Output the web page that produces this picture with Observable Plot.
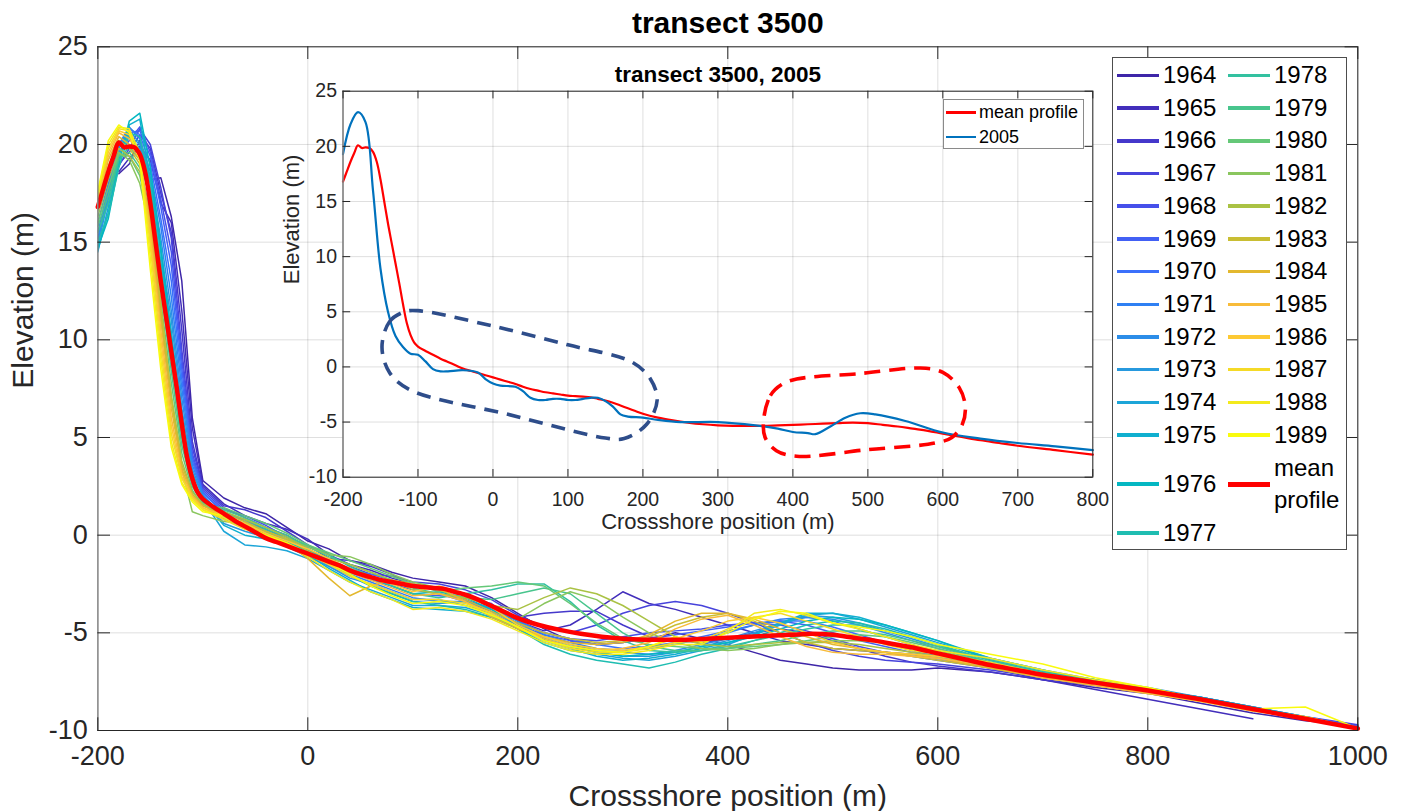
<!DOCTYPE html>
<html>
<head>
<meta charset="utf-8">
<script src="https://cdn.jsdelivr.net/npm/d3@7"></script>
<script src="https://cdn.jsdelivr.net/npm/@observablehq/plot@0.6"></script>
<style>
  body { margin: 0; background: #fff; }
  #wrap { position: relative; width: 1404px; height: 811px; font-family: 'Liberation Sans', Arial, sans-serif; overflow: hidden; }
  #wrap svg { position: absolute; left: 0; top: 0; }
  .legend { position: absolute; background: #fff; box-sizing: border-box; color: #000; }
  #mainLegend { left: 1112px; top: 57px; width: 235px; height: 493px; border: 1px solid #4d4d4d;
    display: grid; grid-template-rows: repeat(14, auto); grid-auto-flow: column; grid-template-columns: 111px auto;
    padding: 1px 0 0 4px; font-size: 24px; }
  #mainLegend .item { display: flex; align-items: center; line-height: 32.7px; white-space: nowrap; }
  #mainLegend .sw { width: 42px; height: 3.5px; margin-right: 4px; flex: none; }
  #mainLegend .two { line-height: 31.7px; padding: 1px 0; }
  #insetLegend { left: 943px; top: 99px; width: 141px; height: 50px; border: 1.5px solid #8a8a8a; padding: 0 0 0 2px; font-size: 18px; }
  #insetLegend .item { display: flex; align-items: center; line-height: 24.5px; white-space: nowrap; }
  #insetLegend .sw { width: 30px; height: 2.5px; margin-right: 3px; flex: none; }
</style>
</head>
<body>
<div id="wrap"></div>
<script>
// ---------------- data ----------------
const mainTitle = "transect 3500";
const insetTitle = "transect 3500, 2005";
const xLabel = "Crossshore position (m)";
const yLabel = "Elevation (m)";

const mainXTicks = [-200, 0, 200, 400, 600, 800, 1000];
const mainYTicks = [-10, -5, 0, 5, 10, 15, 20, 25];
const insetXTicks = [-200, -100, 0, 100, 200, 300, 400, 500, 600, 700, 800];
const insetYTicks = [-10, -5, 0, 5, 10, 15, 20, 25];

const years = [1964,1965,1966,1967,1968,1969,1970,1971,1972,1973,1974,1975,1976,1977,
               1978,1979,1980,1981,1982,1983,1984,1985,1986,1987,1988,1989];
const yearColors = ["#3E26A8","#422EBB","#4538CB","#4743DB","#4650EA","#4260F4","#3B70FB","#2F80F3",
                    "#2C8DE8","#2799DE","#1CA5D8","#10AFCF","#04B7C2","#1FBDB1","#33C1A0","#48C58D",
                    "#65C878","#8AC65E","#AAC244","#C9BE33","#E3B82E","#F8BB39","#FDC933","#F5DA27",
                    "#F3EA1C","#F9FB0E"];

// shared crossshore positions of the yearly surveys
const surveyX = [-200,-190,-180,-170,-160,-150,-140,-130,-120,-110,-100,
                 -80,-60,-40,-20,0,20,40,60,80,100,
                 125,150,175,200,225,250,275,300,325,350,
                 375,400,425,450,475,500,525,550,575,600,
                 650,700,750,800,850,900,950,1000];

const y1964 = [null,null,18.5,19.0,20.2,18.2,18.3,16.3,13.0,6.0,2.8, 1.9,1.4,1.1,0.4,-0.3,-0.7,-1.3,-1.5,-1.9,-2.2, -2.4,-2.6,-3.2,-4.0,-4.8,-5.4,-5.6,-5.5,-5.3,-5.0, -5.3,-5.6,-6.0,-6.4,-6.6,-6.8,-6.9,-6.9,-6.9,-6.8, -7.0,-7.4,-7.8,-8.1,-8.6,-9.1,-9.5,-9.75];
const y1965 = [null,null,18.6,19.3,19.9,19.2,17.0,16.0,11.5,5.5,2.6, 1.6,1.0,0.6,0.3,-0.2,-1.0,-1.5,-1.8,-2.2,-2.5, -2.7,-3.0,-3.6,-4.4,-4.9,-4.6,-3.8,-2.9,-3.5,-3.8, -4.2,-4.6,-5.0,-5.4,-5.6,-5.8,-5.9,-6.0,-6.1,-6.3, -6.8,-7.4,-7.9,-8.4,-8.9,-9.4,null,null];
const y1966 = [null,18.4,19.0,19.6,20.5,19.8,17.5,15.5,10.5,4.8,2.5, 1.5,1.3,0.9,0.2,-0.5,-1.2,-1.3,-1.6,-2.0,-2.6, -2.8,-3.3,-3.8,-4.2,-4.0,-3.9,-3.9,-4.6,-5.2,-5.4, -5.5,-5.3,-5.0,-4.8,-5.0,-5.4,-5.8,-6.2,-6.5,-6.7, -7.0,-7.4,-7.7,-8.0,-8.4,-8.9,-9.4,-9.8];
const y1967 = [null,null,18.9,19.8,20.8,20.0,17.8,15.2,9.5,4.5,2.4, 1.4,0.9,0.4,0.0,-0.6,-1.0,-1.6,-2.0,-2.1,-2.4, -2.5,-2.8,-3.3,-4.1,-4.7,-5.0,-4.6,-4.0,-3.6,-3.4, -3.6,-4.0,-4.5,-5.0,-5.5,-5.9,-6.2,-6.4,-6.5,-6.6, -6.9,-7.3,-7.6,-7.9,-8.3,-8.8,-9.3,-9.7];
const y1968 = [null,18.6,19.5,20.2,20.9,19.6,17.2,14.5,9.0,4.2,2.3, 1.3,1.0,0.5,-0.1,-0.7,-1.3,-1.7,-2.1,-2.5,-2.8, -3.0,-3.4,-3.9,-4.5,-5.0,-5.3,-5.4,-5.2,-5.0,-4.9, -4.8,-4.6,-4.5,-4.6,-4.9,-5.3,-5.7,-6.0,-6.2,-6.4, -6.8,-7.2,-7.6,-8.0,-8.4,-8.9,-9.4,-9.8];
const y1969 = [16.0,18.0,19.8,20.6,20.7,19.4,16.8,13.8,8.5,4.0,2.2, 1.2,0.7,0.3,-0.2,-0.8,-1.4,-1.9,-2.3,-2.6,-3.0, -3.1,-3.2,-3.5,-4.6,-5.1,-5.4,-5.6,-5.5,-5.3,-5.1, -4.9,-4.7,-4.5,-4.4,-4.6,-5.0,-5.4,-5.7,-6.0,-6.2, -6.7,-7.2,-7.5,-7.9,-8.4,-8.9,-9.4,-9.9];
const y1970 = [15.5,17.8,19.9,20.8,20.5,19.0,16.2,13.0,8.0,3.8,2.2, 1.1,0.8,0.2,-0.3,-0.9,-1.2,-1.8,-2.0,-2.3,-2.6, -2.8,-3.0,-3.6,-4.4,-5.0,-5.3,-5.6,-5.8,-5.7,-5.5, -5.2,-4.9,-4.6,-4.4,-4.4,-4.7,-5.1,-5.5,-5.9,-6.2, -6.7,-7.1,-7.5,-7.9,-8.3,-8.8,-9.3,-9.8];
const y1971 = [15.2,17.6,20.0,20.9,20.3,18.6,15.8,12.2,7.5,3.6,2.1, 0.9,0.5,0.0,-0.5,-1.0,-1.5,-2.0,-2.4,-2.8,-3.2, -3.4,-3.4,-3.7,-4.3,-5.1,-5.5,-5.8,-5.9,-5.8,-5.6, -5.3,-5.0,-4.6,-4.3,-4.2,-4.4,-4.8,-5.2,-5.6,-6.0, -6.6,-7.1,-7.5,-7.9,-8.4,-8.9,-9.4,-9.9];
const y1972 = [15.0,17.4,19.8,20.7,20.1,18.3,15.2,11.5,7.0,3.4,2.0, 0.8,0.4,0.1,-0.4,-0.9,-1.6,-2.2,-2.5,-2.9,-3.3, -3.3,-3.6,-4.0,-4.6,-5.2,-5.6,-5.9,-6.0,-6.1,-5.9, -5.6,-5.3,-4.9,-4.5,-4.2,-4.3,-4.6,-5.0,-5.4,-5.8, -6.5,-7.0,-7.4,-7.9,-8.3,-8.8,-9.4,-9.9];
const y1973 = [14.8,17.2,19.6,20.5,20.0,18.0,14.6,11.0,6.5,3.2,2.0, 0.6,0.2,-0.1,-0.6,-1.1,-1.6,-2.1,-2.6,-3.0,-3.4, -3.5,-3.4,-3.8,-4.4,-5.3,-5.7,-6.0,-6.2,-6.2,-6.0, -5.7,-5.4,-5.0,-4.5,-4.1,-4.2,-4.5,-4.9,-5.3,-5.7, -6.4,-7.0,-7.4,-7.8,-8.3,-8.9,-9.4,-9.9];
const y1974 = [14.5,16.8,19.4,20.4,19.8,17.6,14.0,10.4,6.0,3.0,1.8, 0.2,-0.5,-0.6,-0.8,-1.2,-1.8,-2.4,-2.8,-3.2,-3.6, -3.6,-3.7,-4.1,-4.8,-5.5,-5.9,-6.1,-6.3,-6.4,-6.2, -5.9,-5.6,-5.1,-4.6,-4.1,-4.0,-4.3,-4.7,-5.1,-5.5, -6.3,-6.9,-7.4,-7.9,-8.4,-8.9,-9.4,-9.9];
const y1975 = [14.6,16.5,19.2,21.0,21.3,18.2,14.5,10.0,5.8,2.9,1.8, 0.5,0.0,-0.2,-0.5,-1.0,-1.7,-2.3,-2.9,-3.3,-3.7, -3.8,-3.9,-4.2,-4.7,-5.4,-5.8,-6.2,-6.4,-6.3,-6.1, -5.8,-5.5,-5.1,-4.5,-4.0,-4.0,-4.2,-4.6,-5.0,-5.4, -6.3,-6.9,-7.5,-8.0,-8.4,-8.9,-9.4,-9.9];
const y1976 = [14.7,16.2,19.0,21.2,21.6,18.8,14.8,10.2,5.6,2.9,1.7, 0.9,0.6,0.2,-0.4,-0.8,-1.3,-1.7,-2.2,-2.6,-3.0, -2.9,-3.2,-3.8,-4.6,-5.3,-5.7,-6.0,-6.2,-6.1,-6.0, -5.7,-5.5,-5.2,-4.8,-4.4,-4.2,-4.3,-4.6,-5.0,-5.4, -6.4,-7.0,-7.4,-7.9,-8.3,-8.8,-9.3,-9.9];
const y1977 = [15.0,16.4,18.8,20.6,20.4,18.0,13.8,9.6,5.4,2.8,1.7, 1.0,0.5,0.1,-0.3,-0.8,-1.4,-2.0,-2.6,-3.0,-3.4, -3.6,-3.8,-4.2,-4.8,-5.6,-6.1,-6.4,-6.6,-6.8,-6.5, -6.1,-5.8,-5.4,-5.0,-4.6,-4.4,-4.5,-4.8,-5.2,-5.6, -6.6,-7.2,null,null,null,null,null,null];
const y1978 = [15.5,17.0,19.2,19.9,19.2,17.2,13.2,9.0,5.0,2.7,1.6, 1.2,0.8,0.3,-0.1,-0.5,-1.0,-1.6,-2.1,-2.6,-3.0, -3.2,-3.0,-2.8,-2.5,-2.5,-3.4,-4.6,-5.4,-5.9,-6.0, -5.9,-5.7,-5.4,-5.1,-4.8,-4.6,-4.6,-4.9,-5.2,-5.6, -6.4,-7.0,-7.5,-7.9,-8.4,-8.9,-9.4,-9.9];
const y1979 = [15.8,17.4,19.4,19.6,18.8,16.6,12.6,8.4,4.6,2.5,1.6, 1.3,0.9,0.4,0.0,-0.6,-1.1,-1.5,-1.9,-2.3,-2.7, -3.0,-3.2,-3.3,-3.0,-2.7,-3.0,-4.0,-5.0,-5.7,-5.9, -5.9,-5.8,-5.6,-5.4,-5.1,-4.9,-4.9,-5.1,-5.4,-5.7, -6.5,-7.1,-7.5,-8.0,-8.4,-8.9,-9.4,-9.9];
const y1980 = [16.0,17.8,19.5,19.4,18.4,16.0,12.0,7.8,4.2,2.3,1.5, 1.4,1.0,0.6,0.1,-0.5,-0.9,-1.3,-1.7,-2.1,-2.5, -2.9,-2.7,-2.6,-2.4,-2.6,-3.5,-4.5,-5.3,-5.6,-5.7, -5.8,-5.8,-5.7,-5.6,-5.4,-5.2,-5.1,-5.2,-5.5,-5.8, -6.6,-7.1,null,null,null,null,null,null];
const y1981 = [16.3,18.2,19.6,19.2,18.0,15.6,11.2,7.0,3.4,1.2,1.0, 0.7,0.6,0.2,-0.2,-0.6,-1.0,-1.1,-1.5,-2.0,-2.4, -2.7,-3.1,-3.7,-4.3,-3.5,-2.9,-3.3,-4.2,-5.0,-5.5, -5.8,-5.9,-5.8,-5.6,-5.5,-5.4,-5.4,-5.5,-5.7,-5.9, -6.6,-7.2,-7.6,-8.0,-8.4,-8.9,-9.4,-9.9];
const y1982 = [16.6,18.6,19.8,19.4,18.6,16.0,11.5,7.2,3.8,2.2,1.6, 1.2,0.8,0.4,-0.1,-0.7,-1.2,-1.5,-1.9,-2.3,-2.8, -3.0,-3.2,-3.6,-3.8,-3.2,-2.7,-3.0,-3.6,-4.4,-5.2, -5.6,-5.7,-5.6,-5.5,-5.5,-5.5,-5.6,-5.8,-6.0,-6.2, -6.7,-7.2,null,null,null,null,null,null];
const y1983 = [16.8,18.9,20.2,19.8,19.0,16.2,11.8,7.0,3.6,2.1,1.5, 1.1,0.7,0.2,-0.2,-0.8,-1.4,-1.9,-2.2,-2.4,-2.6, -2.8,-3.3,-3.9,-4.5,-5.0,-5.3,-5.5,-5.4,-5.2,-4.6, -4.2,-4.0,-4.4,-5.0,-5.5,-5.8,-5.9,-6.0,-6.2,-6.4, -6.8,-7.3,-7.6,-8.0,-8.4,-8.9,-9.4,-9.9];
const y1984 = [17.0,19.2,20.4,20.0,19.2,16.0,11.0,6.5,3.4,2.0,1.5, 1.0,0.6,0.1,-0.4,-1.2,-2.2,-3.1,-2.6,-2.3,-2.5, -2.7,-3.4,-4.2,-4.8,-5.2,-5.5,-5.6,-5.5,-5.1,-4.4, -4.0,-4.0,-4.3,-4.8,-5.2,-5.6,-5.8,-6.0,-6.1,-6.3, -6.8,-7.3,-7.7,-8.1,-8.5,-8.9,-9.4,-9.9];
const y1985 = [17.1,19.4,20.6,20.3,19.4,15.6,10.5,6.0,3.2,2.0,1.4, 0.9,0.5,0.0,-0.5,-1.0,-1.5,-1.9,-2.3,-2.7,-3.1, -3.0,-3.4,-4.0,-4.7,-5.3,-5.7,-5.9,-5.8,-5.5,-4.8, -4.3,-4.1,-4.6,-5.2,-5.7,-6.0,-6.1,-6.1,-6.2,-6.3, -6.7,-7.3,-7.7,-8.1,-8.5,-9.0,-9.3,-9.9];
const y1986 = [17.2,19.6,20.7,20.5,19.3,15.2,10.0,5.6,3.0,1.9,1.4, 1.0,0.6,0.1,-0.3,-0.7,-1.2,-1.7,-2.2,-2.5,-2.9, -2.6,-3.0,-3.7,-4.6,-5.2,-5.6,-5.8,-5.9,-5.7,-5.3, -4.9,-4.4,-4.2,-4.5,-5.0,-5.5,-5.8,-6.0,-6.1,-6.2, -6.6,-7.2,-7.6,-8.0,-8.5,-9.0,-9.4,-9.9];
const y1987 = [17.3,19.8,20.8,20.7,19.6,14.8,9.5,5.2,2.9,1.9,1.3, 0.8,0.3,0.0,-0.4,-0.9,-1.5,-2.1,-2.5,-2.9,-3.3, -3.3,-3.5,-4.0,-4.7,-5.4,-5.8,-6.0,-6.0,-5.8,-5.5, -5.4,-4.8,-4.2,-4.0,-4.4,-4.8,-5.2,-5.6,-5.9,-6.1, -6.5,-7.1,-7.5,-7.9,-8.4,-8.9,-9.4,-9.9];
const y1988 = [17.5,20.0,20.9,20.8,19.5,14.2,9.0,4.8,2.7,1.8,1.3, 0.9,0.4,-0.1,-0.5,-1.1,-1.8,-2.4,-2.9,-3.3,-3.8, -3.7,-3.9,-4.3,-4.9,-5.5,-5.9,-6.1,-6.1,-5.9,-5.6, -5.6,-4.9,-4.0,-3.8,-4.1,-4.5,-4.8,-5.2,-5.6,-5.9, -6.3,-6.9,-7.4,-7.8,-8.4,-8.9,-9.3,-9.9];
const y1989 = [17.6,20.2,21.0,20.6,19.2,13.6,8.5,4.5,2.6,1.7,1.2, 1.0,0.5,0.0,-0.4,-1.0,-1.4,-2.0,-2.6,-3.1,-3.5, -3.4,-3.6,-4.1,-4.7,-5.4,-5.7,-5.9,-6.0,-5.7,-5.2, -5.5,-5.0,-4.3,-3.9,-4.0,-4.5,-4.7,-4.9,-5.2,-5.6, -6.1,-6.6,-7.3,-7.8,-8.4,-8.9,-8.8,-9.9];

const yearProfiles = [y1964,y1965,y1966,y1967,y1968,y1969,y1970,y1971,y1972,y1973,y1974,y1975,y1976,
                      y1977,y1978,y1979,y1980,y1981,y1982,y1983,y1984,y1985,y1986,y1987,y1988,y1989];

// mean profile
const meanX = [-200,-195,-190,-185,-180,-175,-170,-165,-160,-155,-150,-145,-140,-135,-130,-125,-120,-115,-110,-105,-100,
               -90,-80,-70,-60,-50,-40,-30,-20,-10,0,10,20,30,40,50,60,70,80,90,100,110,120,130,140,150,160,170,180,190,200,
               220,240,260,280,300,320,340,360,380,400,420,440,460,480,500,520,540,560,580,600,
               625,650,675,700,750,800,850,900,950,1000];
const meanY = [16.8,17.7,18.6,19.4,20.1,19.85,19.9,19.85,19.5,18.6,17.0,15.0,13.0,11.2,9.4,7.6,5.7,4.0,2.9,2.2,1.85,
               1.45,1.1,0.75,0.45,0.15,-0.15,-0.35,-0.55,-0.75,-0.95,-1.15,-1.35,-1.55,-1.8,-2.0,-2.15,-2.3,-2.4,-2.5,-2.6,
               -2.65,-2.7,-2.75,-2.9,-3.05,-3.25,-3.5,-3.75,-4.0,-4.25,
               -4.6,-4.85,-5.05,-5.2,-5.3,-5.35,-5.35,-5.35,-5.3,-5.25,-5.2,-5.15,-5.1,-5.05,-5.1,-5.25,-5.4,-5.6,-5.8,-6.05,
               -6.35,-6.65,-6.9,-7.15,-7.55,-7.95,-8.4,-8.9,-9.4,-9.9];

// 2005 profile (inset)
const p2005X = [-200,-190,-180,-170,-160,-150,-140,-130,-120,-110,-100,-90,-80,-70,-60,-40,-20,-10,0,10,30,
                40,50,60,70,80,90,100,110,120,130,140,150,160,170,180,200,220,250,300,350,
                380,400,420,430,450,470,490,510,550,600,650,700,750,800];
const p2005Y = [19.3,22.0,23.1,22.2,16.0,8.9,5.0,2.8,1.8,1.2,1.1,0.5,-0.2,-0.4,-0.4,-0.3,-0.5,-1.1,-1.5,-1.7,-1.8,
                -2.2,-2.8,-3.0,-3.0,-2.9,-2.9,-3.0,-3.0,-2.9,-2.8,-2.8,-3.1,-3.6,-4.3,-4.5,-4.6,-4.8,-5.0,-5.0,-5.3,
                -5.6,-5.9,-6.0,-6.1,-5.4,-4.6,-4.2,-4.3,-4.9,-5.95,-6.5,-6.9,-7.2,-7.55];

// annotation outlines (data coordinates of the inset)
const nearshoreLoopX = [-148,-138,-118,-100,0,100,185,210,219,205,175,150,20,-110,-138];
const nearshoreLoopY = [1.8,4.1,5.0,5.1,3.7,2.0,0.45,-1.1,-3.0,-5.2,-6.5,-6.45,-4.3,-2.1,-0.5];
const barLoopX = [361,370,385,405,490,570,600,622,630,626,612,590,500,405,378,363];
const barLoopY = [-4.8,-2.6,-1.6,-1.1,-0.6,-0.1,-0.5,-1.9,-3.6,-5.2,-6.4,-6.9,-7.5,-8.1,-7.6,-6.4];

const meanLabel = "mean profile";
const insetSeriesLabel = "2005";

// ---------------- build ----------------
const font = "'Liberation Sans', Arial, sans-serif";
const axisInk = "#262626";
const gridOpacity = 0.15;
const W = 1404, H = 811;

const mainXDomain = [-200, 1000];
const insetXDomain = [-200, 800];
const yDomain = [-10, 25];

const meanData = meanX.map((x, i) => ({x, y: meanY[i]}));
const meanInset = meanData.filter(d => d.x >= insetXDomain[0] && d.x <= insetXDomain[1]);
const data2005 = p2005X.map((x, i) => ({x, y: p2005Y[i]}));
const loopA = nearshoreLoopX.map((x, i) => ({x, y: nearshoreLoopY[i]}));
const loopB = barLoopX.map((x, i) => ({x, y: barLoopY[i]}));

// main chart frame
const mL = 97.3, mR = W - 1357.3, mT = 46.3, mB = H - 730;
const mPW = W - mL - mR, mPH = H - mT - mB;
const mTick = 12.7;

const yearMarks = years.map((yr, k) =>
  Plot.line(surveyX.map((x, j) => ({x, y: yearProfiles[k][j]})).filter(d => d.y != null),
    {x: "x", y: "y", stroke: yearColors[k], strokeWidth: 1.5})
);

const main = Plot.plot({
  width: W, height: H,
  marginLeft: mL, marginRight: mR, marginTop: mT, marginBottom: mB,
  style: {fontFamily: font, fontSize: "27px", color: axisInk, background: "white", overflow: "visible"},
  x: {domain: mainXDomain, ticks: mainXTicks, tickSize: 0, tickPadding: 15, tickFormat: d => String(d), label: null},
  y: {domain: yDomain, ticks: mainYTicks, tickSize: 0, tickPadding: 10, tickFormat: d => String(d), label: null},
  marks: [
    Plot.ruleX(mainXTicks, {x: d => d, stroke: axisInk, strokeOpacity: gridOpacity}),
    Plot.ruleY(mainYTicks, {y: d => d, stroke: axisInk, strokeOpacity: gridOpacity}),
    ...yearMarks,
    Plot.line(meanData, {x: "x", y: "y", stroke: "#FF0000", strokeWidth: 4.5, curve: "catmull-rom"}),
    Plot.frame({stroke: axisInk, strokeWidth: 1}),
    Plot.ruleX([mainXDomain[0]], {x: d => d, stroke: "#a0a0a0", strokeWidth: 1.2}),
    Plot.tickY(mainYTicks, {y: d => d, stroke: axisInk, insetRight: mPW - mTick}),
    Plot.tickY(mainYTicks, {y: d => d, stroke: axisInk, insetLeft: mPW - mTick}),
    Plot.tickX(mainXTicks, {x: d => d, stroke: axisInk, insetTop: mPH - mTick}),
    Plot.tickX(mainXTicks, {x: d => d, stroke: axisInk, insetBottom: mPH - mTick}),
    Plot.text([mainTitle], {text: d => d, frameAnchor: "top", dy: -23, fontSize: 30, fontWeight: "bold", fill: "#000", lineAnchor: "middle"}),
    Plot.text([xLabel], {text: d => d, frameAnchor: "bottom", dy: 66, fontSize: 30, fill: axisInk, lineAnchor: "middle"}),
    Plot.text([yLabel], {text: d => d, frameAnchor: "left", dx: -74, rotate: -90, fontSize: 30, fill: axisInk, lineAnchor: "middle"})
  ]
});

// inset chart frame
const iL = 342.5, iR = W - 1092.3, iT = 90.7, iB = H - 476.7;
const iPW = W - iL - iR, iPH = H - iT - iB;
const iTick = 7.7;

const inset = Plot.plot({
  width: W, height: H,
  marginLeft: iL, marginRight: iR, marginTop: iT, marginBottom: iB,
  style: {fontFamily: font, fontSize: "19.5px", color: axisInk, background: "transparent", overflow: "visible"},
  x: {domain: insetXDomain, ticks: insetXTicks, tickSize: 0, tickPadding: 15, tickFormat: d => String(d), label: null},
  y: {domain: yDomain, ticks: insetYTicks, tickSize: 0, tickPadding: 6, tickFormat: d => String(d), label: null},
  marks: [
    Plot.frame({fill: "white"}),
    Plot.ruleX(insetXTicks, {x: d => d, stroke: axisInk, strokeOpacity: gridOpacity}),
    Plot.ruleY(insetYTicks, {y: d => d, stroke: axisInk, strokeOpacity: gridOpacity}),
    Plot.line(meanInset, {x: "x", y: "y", stroke: "#FF0000", strokeWidth: 2.2, curve: "catmull-rom"}),
    Plot.line(data2005, {x: "x", y: "y", stroke: "#0072BD", strokeWidth: 2.2, curve: "catmull-rom"}),
    Plot.line(loopA, {x: "x", y: "y", curve: "catmull-rom-closed", stroke: "#2E4D8A", strokeWidth: 3.6, strokeDasharray: "14 9", strokeLinecap: "butt"}),
    Plot.line(loopB, {x: "x", y: "y", curve: "catmull-rom-closed", stroke: "#FF0000", strokeWidth: 3.6, strokeDasharray: "16 9", strokeLinecap: "butt"}),
    Plot.frame({stroke: axisInk, strokeWidth: 1}),
    Plot.ruleX([insetXDomain[0]], {x: d => d, stroke: "#a0a0a0", strokeWidth: 1.2}),
    Plot.tickY(insetYTicks, {y: d => d, stroke: axisInk, insetRight: iPW - iTick}),
    Plot.tickY(insetYTicks, {y: d => d, stroke: axisInk, insetLeft: iPW - iTick}),
    Plot.tickX(insetXTicks, {x: d => d, stroke: axisInk, insetTop: iPH - iTick}),
    Plot.tickX(insetXTicks, {x: d => d, stroke: axisInk, insetBottom: iPH - iTick}),
    Plot.text([insetTitle], {text: d => d, frameAnchor: "top", dy: -16.5, fontSize: 22.5, fontWeight: "bold", fill: "#000", lineAnchor: "middle"}),
    Plot.text([xLabel], {text: d => d, frameAnchor: "bottom", dy: 44.5, fontSize: 22, fill: axisInk, lineAnchor: "middle"}),
    Plot.text([yLabel], {text: d => d, frameAnchor: "left", dx: -51, rotate: -90, fontSize: 22, fill: axisInk, lineAnchor: "middle"})
  ]
});

const wrap = document.getElementById("wrap");
wrap.appendChild(main);
wrap.appendChild(inset);

// main legend
const leg = document.createElement("div");
leg.id = "mainLegend";
leg.className = "legend";
function addItem(container, color, labelHtml, cls, thick) {
  const it = document.createElement("div");
  it.className = "item";
  const sw = document.createElement("span");
  sw.className = "sw";
  sw.style.background = color;
  if (thick) sw.style.height = thick + "px";
  const tx = document.createElement("span");
  if (cls) tx.className = cls;
  tx.innerHTML = labelHtml;
  it.appendChild(sw); it.appendChild(tx);
  container.appendChild(it);
}
years.forEach((yr, k) => addItem(leg, yearColors[k], String(yr)));
addItem(leg, "#FF0000", meanLabel.replace(" ", "<br>"), "two", 5);
wrap.appendChild(leg);

// inset legend
const leg2 = document.createElement("div");
leg2.id = "insetLegend";
leg2.className = "legend";
addItem(leg2, "#FF0000", meanLabel);
addItem(leg2, "#0072BD", insetSeriesLabel);
wrap.appendChild(leg2);
</script>
</body>
</html>
